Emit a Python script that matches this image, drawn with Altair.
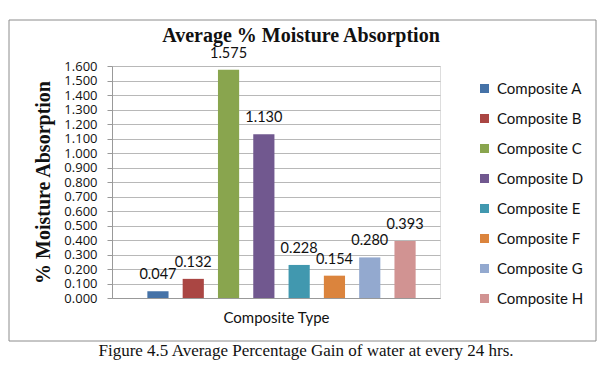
import altair as alt
import pandas as pd

composites = ["Composite A", "Composite B", "Composite C", "Composite D",
              "Composite E", "Composite F", "Composite G", "Composite H"]
values = [0.047, 0.132, 1.575, 1.130, 0.228, 0.154, 0.280, 0.393]
colors = ["#4572A7", "#AA4643", "#89A54E", "#71588F",
          "#4198AF", "#DB843D", "#93A9CF", "#D19392"]
y_ticks = [0.0, 0.1, 0.2, 0.3, 0.4, 0.5, 0.6, 0.7, 0.8,
           0.9, 1.0, 1.1, 1.2, 1.3, 1.4, 1.5, 1.6]
chart_title = "Average % Moisture Absorption"
caption_text = "Figure 4.5 Average Percentage Gain of water at every 24 hrs."

df = pd.DataFrame({"Composite": composites, "Value": values})

x_scale = alt.Scale(paddingInner=0.4, paddingOuter=0.846)
x_enc = alt.X("Composite:N", sort=composites, scale=x_scale,
              axis=alt.Axis(labels=False, ticks=False, domainColor="#999999",
                            title="Composite Type", titleFont="Lato",
                            titleFontSize=15, titleFontWeight="normal",
                            titleColor="#111111", titlePadding=12))
y_enc = alt.Y("Value:Q", scale=alt.Scale(domain=[0, 1.6], nice=False),
              axis=alt.Axis(values=y_ticks, format=".3f", labelFont="Open Sans",
                            labelFontSize=13, labelColor="#111111",
                            labelOverlap=False, labelPadding=10,
                            tickColor="#999999", tickSize=5,
                            domainColor="#999999", gridColor="#B8B8B8",
                            title="% Moisture Absorption",
                            titleFont="Liberation Serif", titleFontSize=20,
                            titleFontWeight="bold", titleColor="#111111",
                            titlePadding=10))

bars = alt.Chart(df).mark_bar(xOffset=5.5).encode(
    x=x_enc, y=y_enc,
    color=alt.Color("Composite:N", sort=composites,
                    scale=alt.Scale(domain=composites, range=colors),
                    legend=alt.Legend(title=None, orient="none", legendX=365,
                                      legendY=15, symbolType="square",
                                      symbolSize=81, symbolStrokeWidth=0,
                                      labelFont="Lato", labelFontSize=15,
                                      labelColor="#111111", rowPadding=14,
                                      labelOffset=5)))

labels = alt.Chart(df).mark_text(baseline="bottom", dy=-9, dx=5.5, font="Lato",
                                 fontSize=14.5, color="#111111").encode(
    x=x_enc, y=y_enc,
    text=alt.Text("Value:Q", format=".3f"))

one = pd.DataFrame({"k": [0]})

frame = alt.Chart(one).mark_rect(
    fillOpacity=0, stroke="#8C8C8C", strokeWidth=1).encode(
    x=alt.value(-103), x2=alt.value(484), y=alt.value(-46), y2=alt.value(275))

title = alt.Chart(one).mark_text(
    font="Liberation Serif", fontSize=20, fontWeight="bold", color="#111111",
    baseline="alphabetic").encode(
    x=alt.value(189), y=alt.value(-24), text=alt.value(chart_title))

caption = alt.Chart(one).mark_text(
    font="Liberation Serif", fontSize=17, color="#111111",
    baseline="alphabetic").encode(
    x=alt.value(194), y=alt.value(290), text=alt.value(caption_text))

chart = alt.layer(frame, bars, labels, title, caption).properties(
    width=328, height=232,
    autosize=alt.AutoSizeParams(type="none"),
    padding={"left": 104, "top": 58, "right": 160, "bottom": 62},
).configure_view(stroke=None).configure(background="white")

chart.save("out.html", embed_options={"renderer": "svg", "actions": False})
